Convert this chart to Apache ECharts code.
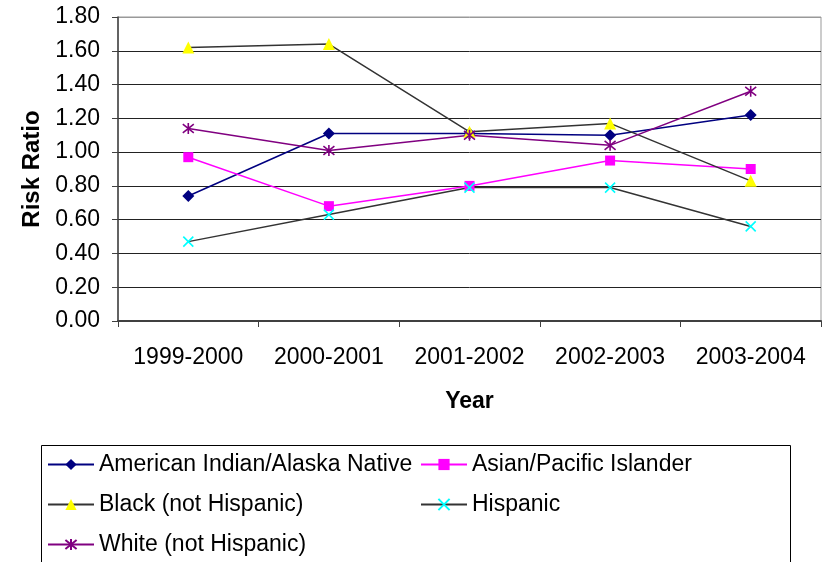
<!DOCTYPE html>
<html>
<head>
<meta charset="utf-8">
<script src="https://cdn.jsdelivr.net/npm/echarts@6/dist/echarts.min.js"></script>
<style>
  html, body { margin: 0; padding: 0; background: #fff; }
  #chart { width: 824px; height: 562px; }
</style>
</head>
<body>
<div id="chart"></div>
<script>
// School years on the category axis
const years = ['1999-2000', '2000-2001', '2001-2002', '2002-2003', '2003-2004'];

// Risk ratio by racial/ethnic group
const americanIndian = [0.74, 1.11, 1.11, 1.10, 1.22];
const asianPacific   = [0.97, 0.68, 0.80, 0.95, 0.90];
const blackNH        = [1.62, 1.64, 1.12, 1.17, 0.83];
const hispanic       = [0.47, 0.63, 0.79, 0.79, 0.56];
const whiteNH        = [1.14, 1.01, 1.10, 1.04, 1.36];

const FONT = '"Liberation Sans", Arial, sans-serif';

const crossPath = 'path://M0,0L10,10M10,0L0,10';
const starPath = 'path://M5,0L5,10M0,1L10,9M10,1L0,9';

function lineSeries(name, data, lineColor, symbol, size, fill, stroke) {
  return {
    name: name,
    type: 'line',
    data: data,
    symbol: symbol,
    symbolSize: size,
    showAllSymbol: true,
    lineStyle: { color: lineColor, width: 1.5 },
    itemStyle: {
      color: fill,
      borderColor: stroke || fill,
      borderWidth: stroke ? 1.6 : 0
    },
    emphasis: { disabled: true }
  };
}

const series = [
  lineSeries('American Indian/Alaska Native', americanIndian, '#000080', 'diamond', 12, '#000080'),
  lineSeries('Asian/Pacific Islander', asianPacific, '#FF00FF', 'rect', 10, '#FF00FF'),
  lineSeries('Black (not Hispanic)', blackNH, '#333333', 'triangle', 12, '#FFFF00'),
  lineSeries('Hispanic', hispanic, '#333333', crossPath, 10, '#00FFFF', '#00FFFF'),
  lineSeries('White (not Hispanic)', whiteNH, '#800080', starPath, 11, '#800080', '#800080')
];

const chart = echarts.init(document.getElementById('chart'), null, { renderer: 'canvas' });

const legendText = { fontFamily: FONT, fontSize: 23, color: '#000', lineHeight: 24 };

chart.setOption({
  animation: false,
  backgroundColor: '#fff',
  textStyle: { fontFamily: FONT },
  grid: {
    left: 118, right: 3, top: 17, bottom: 241,
    show: true, borderColor: '#999', borderWidth: 1
  },
  xAxis: {
    type: 'category',
    data: years,
    boundaryGap: true,
    name: 'Year',
    nameLocation: 'middle',
    nameGap: 69,
    nameTextStyle: { fontFamily: FONT, fontSize: 23, fontWeight: 'bold', color: '#000' },
    axisLine: { lineStyle: { color: '#404040', width: 2 } },
    axisTick: { show: true, interval: 0, alignWithLabel: false, length: 6, lineStyle: { color: '#404040', width: 1 } },
    axisLabel: { interval: 0, fontFamily: FONT, fontSize: 23, color: '#000', margin: 25 },
    splitLine: { show: false }
  },
  yAxis: {
    type: 'value',
    min: 0, max: 1.8, interval: 0.2,
    name: 'Risk Ratio',
    nameLocation: 'middle',
    nameRotate: 90,
    nameGap: 73,
    nameTextStyle: { fontFamily: FONT, fontSize: 24, fontWeight: 'bold', color: '#000' },
    axisLine: { show: true, lineStyle: { color: '#404040', width: 1.5 } },
    axisTick: { show: true, length: 6, lineStyle: { color: '#404040', width: 1 } },
    axisLabel: {
      fontFamily: FONT, fontSize: 23, color: '#000', margin: 18,
      formatter: v => v.toFixed(2)
    },
    splitLine: {
      show: true,
      lineStyle: {
        color: ['#222', '#222', '#222', '#222', '#222', '#222', '#222', '#222', '#222', '#999'],
        width: 1
      }
    }
  },
  legend: [
    {
      orient: 'vertical',
      left: 47, top: 452.5,
      itemWidth: 46, itemHeight: 14, itemGap: 16,
      padding: 0,
      textStyle: legendText,
      data: ['American Indian/Alaska Native', 'Black (not Hispanic)', 'White (not Hispanic)'],
      selectedMode: false
    },
    {
      orient: 'vertical',
      left: 420, top: 452.5,
      itemWidth: 46, itemHeight: 14, itemGap: 16,
      padding: 0,
      textStyle: legendText,
      data: ['Asian/Pacific Islander', 'Hispanic'],
      selectedMode: false
    }
  ],
  graphic: [
    {
      type: 'rect',
      left: 39, top: 443,
      shape: { width: 749, height: 140 },
      style: { fill: 'none', stroke: '#000', lineWidth: 1 },
      silent: true
    }
  ],
  series: series
});
</script>
</body>
</html>
